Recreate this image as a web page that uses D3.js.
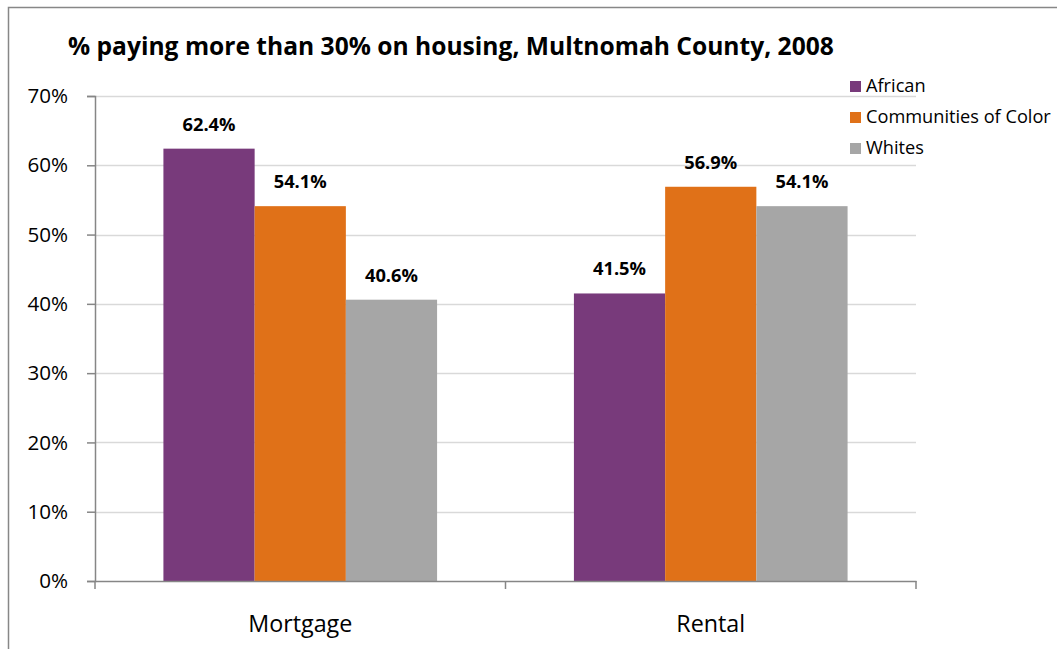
<!DOCTYPE html>
<html>
<head>
<meta charset="utf-8">
<script src="https://cdn.jsdelivr.net/npm/d3@7"></script>
<style>
  html, body { margin: 0; padding: 0; background: #fff; }
  svg { display: block; font-family: "Open Sans", Lato, sans-serif; }
</style>
</head>
<body>
<svg id="chart" width="1057" height="649"></svg>
<script>
const categories = ["Mortgage", "Rental"];
const seriesNames = ["African", "Communities of Color", "Whites"];
const african = [62.4, 41.5];
const communitiesOfColor = [54.1, 56.9];
const whites = [40.6, 54.1];
const yTicks = [0, 10, 20, 30, 40, 50, 60, 70];
const colors = ["#783a7b", "#e07118", "#a6a6a6"];

const seriesValues = [african, communitiesOfColor, whites];
const rows = categories.map((c, i) => ({
  category: c,
  values: seriesNames.map((s, j) => ({ series: s, value: seriesValues[j][i], idx: j }))
}));

const FONT = "'Open Sans', Lato, sans-serif";
const svg = d3.select("#chart");

// outer chart frame
svg.append("rect")
  .attr("x", 8.5).attr("y", 7.5)
  .attr("width", 1060).attr("height", 660)
  .attr("fill", "none").attr("stroke", "#878787").attr("stroke-width", 1.5);

const plot = { left: 95, right: 916, top: 96, bottom: 581 };

const y = d3.scaleLinear().domain([0, 70]).range([plot.bottom, plot.top]);
const x0 = d3.scaleBand().domain(categories).range([plot.left, plot.right]).paddingInner(0).paddingOuter(0);
// 150% gap width: the three bars fill 3 / 4.5 of each category band
const groupInner = x0.bandwidth() * 3 / 4.5;
const x1 = d3.scaleBand().domain(seriesNames).range([0, groupInner]).padding(0);

// gridlines
svg.append("g")
  .selectAll("line")
  .data(yTicks.filter(t => t > 0))
  .join("line")
  .attr("x1", plot.left).attr("x2", plot.right)
  .attr("y1", d => Math.round(y(d)) + 0.5).attr("y2", d => Math.round(y(d)) + 0.5)
  .attr("stroke", "#d9d9d9").attr("stroke-width", 1.5);

// bars
const groups = svg.append("g")
  .selectAll("g")
  .data(rows)
  .join("g")
  .attr("transform", d => `translate(${x0(d.category) + (x0.bandwidth() - groupInner) / 2},0)`);

groups.selectAll("rect")
  .data(d => d.values)
  .join("rect")
  .attr("x", d => x1(d.series))
  .attr("width", x1.bandwidth())
  .attr("y", d => y(d.value))
  .attr("height", d => y(0) - y(d.value))
  .attr("fill", d => colors[d.idx]);

groups.selectAll("text")
  .data(d => d.values)
  .join("text")
  .attr("x", d => x1(d.series) + x1.bandwidth() / 2)
  .attr("y", d => y(d.value) - 18)
  .attr("text-anchor", "middle")
  .attr("font-size", 18.3)
  .attr("font-weight", "bold")
  .attr("fill", "#000")
  .text(d => d.value.toFixed(1) + "%");

// y axis
const yAxis = d3.axisLeft(y).tickValues(yTicks).tickFormat(d => d + "%").tickSize(8).tickPadding(19);
const gy = svg.append("g").attr("transform", `translate(${plot.left},0)`).call(yAxis);
gy.select(".domain").attr("stroke", "#868686").attr("stroke-width", 1.5);
gy.selectAll(".tick line").attr("stroke", "#868686").attr("stroke-width", 1.5);
gy.selectAll(".tick text").attr("font-size", 20.6).attr("fill", "#000").attr("font-family", FONT);

// x axis
const xAxis = d3.axisBottom(x0).tickSize(0).tickPadding(0);
const gx = svg.append("g").attr("transform", `translate(0,${plot.bottom})`).call(xAxis);
gx.select(".domain").attr("stroke", "#868686").attr("stroke-width", 1.5);
gx.selectAll(".tick text")
  .attr("y", 51).attr("dy", null)
  .attr("font-size", 23.3).attr("fill", "#000").attr("font-family", FONT);
// category boundary ticks
gx.append("g")
  .selectAll("line")
  .data([plot.left, x0("Rental"), plot.right])
  .join("line")
  .attr("x1", d => d).attr("x2", d => d)
  .attr("y1", 0).attr("y2", 8)
  .attr("stroke", "#868686").attr("stroke-width", 1.5);

// title
svg.append("text")
  .attr("x", 68).attr("y", 55)
  .attr("font-size", 24.6)
  .attr("font-weight", "bold")
  .attr("fill", "#000")
  .text("% paying more than 30% on housing, Multnomah County, 2008");

// legend
const legend = svg.append("g")
  .selectAll("g")
  .data(seriesNames)
  .join("g")
  .attr("transform", (d, i) => `translate(850,${92 + i * 31})`);
legend.append("rect")
  .attr("x", 0).attr("y", -11).attr("width", 11).attr("height", 11)
  .attr("fill", (d, i) => colors[i]);
legend.append("text")
  .attr("x", 16).attr("y", 0)
  .attr("font-size", 18.2)
  .attr("fill", "#000")
  .text(d => d);
</script>
</body>
</html>
